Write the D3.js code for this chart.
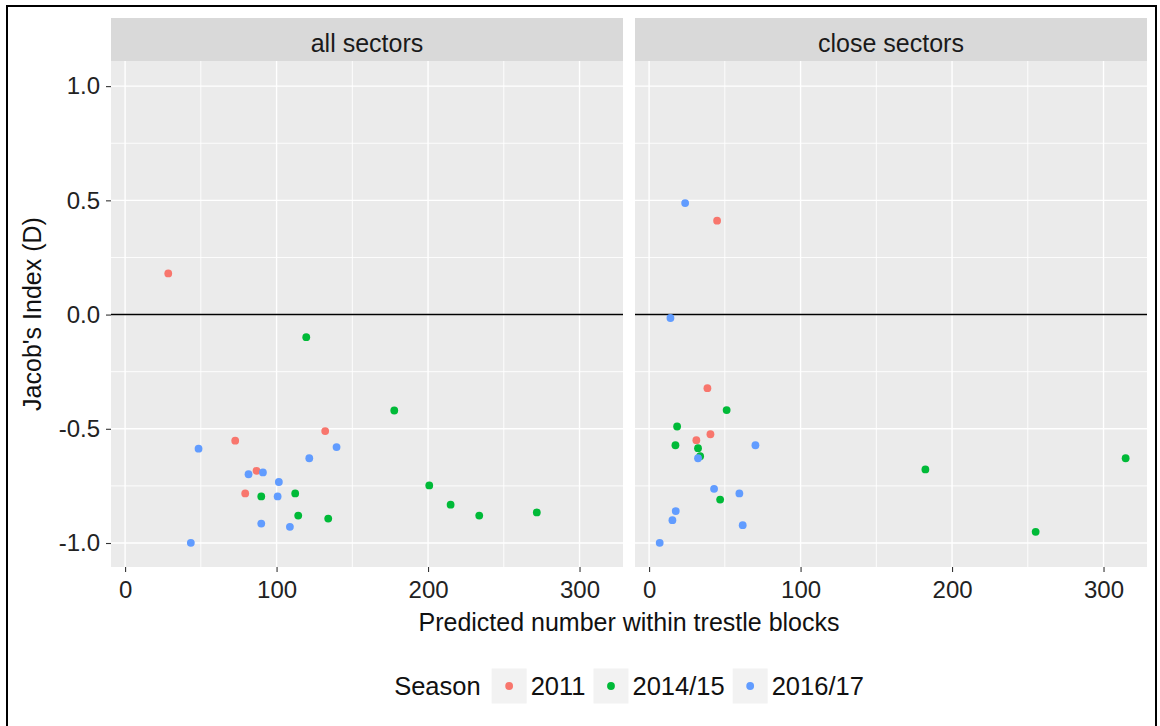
<!DOCTYPE html>
<html>
<head>
<meta charset="utf-8">
<script src="https://cdn.jsdelivr.net/npm/d3@7"></script>
<style>
  html, body { margin: 0; padding: 0; background: #fff; }
  svg { display: block; font-family: "Liberation Sans", Arial, sans-serif; }
</style>
</head>
<body>
<svg id="chart" width="1160" height="726"></svg>
<script>
// Facets and seasons
const panels = ["all sectors", "close sectors"];
const seasons = ["2011", "2014/15", "2016/17"];
const seasonColors = ["#F8766D", "#00BA38", "#619CFF"];

// Tick values
const xTicks = [0, 100, 200, 300];
const xMinor = [50, 150, 250];
const yTicks = [-1.0, -0.5, 0.0, 0.5, 1.0];
const yMinor = [-0.75, -0.25, 0.25, 0.75];

// all sectors: predicted number (x) and Jacob's index (y) per season
const allX2011 = [28.5, 72.7, 79.3, 86.8, 132.1];
const allY2011 = [0.18, -0.552, -0.783, -0.684, -0.51];
const allX1415 = [119.6, 89.9, 112.3, 114.3, 134.1, 177.7, 200.8, 214.9, 233.8, 271.8];
const allY1415 = [-0.099, -0.796, -0.783, -0.88, -0.893, -0.42, -0.748, -0.832, -0.88, -0.866];
const allX1617 = [43.4, 48.5, 81.5, 91.0, 100.7, 101.5, 121.6, 139.6, 89.9, 108.8];
const allY1617 = [-0.999, -0.587, -0.699, -0.691, -0.796, -0.733, -0.629, -0.58, -0.915, -0.929];

// close sectors
const closeX2011 = [44.9, 38.5, 40.5, 31.2];
const closeY2011 = [0.411, -0.322, -0.524, -0.55];
const closeX1415 = [51.2, 18.5, 17.4, 32.3, 33.7, 46.9, 182.4, 314.6, 255.2];
const closeY1415 = [-0.418, -0.49, -0.572, -0.585, -0.62, -0.81, -0.678, -0.629, -0.951];
const closeX1617 = [23.8, 14.1, 70.2, 32.3, 42.9, 59.6, 17.6, 15.4, 61.8, 7.0];
const closeY1617 = [0.488, -0.015, -0.572, -0.629, -0.763, -0.783, -0.86, -0.9, -0.922, -0.999];

const panelSeries = [
  [[allX2011, allY2011], [allX1415, allY1415], [allX1617, allY1617]],
  [[closeX2011, closeY2011], [closeX1415, closeY1415], [closeX1617, closeY1617]]
];

const svg = d3.select("#chart");
const W = 1160, H = 726;

svg.append("rect").attr("width", W).attr("height", H).attr("fill", "#fff");

// outer frame
svg.append("rect")
  .attr("x", 7).attr("y", 6).attr("width", 1149).attr("height", 730)
  .attr("fill", "none").attr("stroke", "#000").attr("stroke-width", 2);

const panelLefts = [111, 635];
const panelW = 512;
const panelTop = 61, panelBottom = 567;
const stripTop = 18;

const y = d3.scaleLinear().domain([-1.105, 1.11]).range([panelBottom, panelTop]);
const color = d3.scaleOrdinal().domain(seasons).range(seasonColors);

const fontSize = 25;
const tickFont = 24;

panels.forEach((name, pi) => {
  const x0 = panelLefts[pi];
  const x = d3.scaleLinear().domain([-9.3, 328.7]).range([x0, x0 + panelW]);
  const g = svg.append("g");

  // strip
  g.append("rect").attr("x", x0).attr("y", stripTop)
    .attr("width", panelW).attr("height", panelTop - stripTop).attr("fill", "#D9D9D9");
  g.append("text").attr("x", x0 + panelW / 2).attr("y", 51.5)
    .attr("text-anchor", "middle")
    .attr("font-size", fontSize).attr("fill", "#1A1A1A").text(name);

  // panel background
  g.append("rect").attr("x", x0).attr("y", panelTop)
    .attr("width", panelW).attr("height", panelBottom - panelTop).attr("fill", "#EBEBEB");

  // minor grid
  g.selectAll(".vminor").data(xMinor).join("line")
    .attr("x1", d => x(d)).attr("x2", d => x(d))
    .attr("y1", panelTop).attr("y2", panelBottom)
    .attr("stroke", "#fff").attr("stroke-width", 0.9);
  g.selectAll(".hminor").data(yMinor).join("line")
    .attr("x1", x0).attr("x2", x0 + panelW)
    .attr("y1", d => y(d)).attr("y2", d => y(d))
    .attr("stroke", "#fff").attr("stroke-width", 0.9);

  // major grid
  g.selectAll(".vmajor").data(xTicks).join("line")
    .attr("x1", d => x(d)).attr("x2", d => x(d))
    .attr("y1", panelTop).attr("y2", panelBottom)
    .attr("stroke", "#fff").attr("stroke-width", 1.4);
  g.selectAll(".hmajor").data(yTicks).join("line")
    .attr("x1", x0).attr("x2", x0 + panelW)
    .attr("y1", d => y(d)).attr("y2", d => y(d))
    .attr("stroke", "#fff").attr("stroke-width", 1.4);

  // reference line at zero
  g.append("line").attr("x1", x0).attr("x2", x0 + panelW)
    .attr("y1", y(0)).attr("y2", y(0))
    .attr("stroke", "#000").attr("stroke-width", 1.4);

  // x axis
  const xAxis = d3.axisBottom(x).tickValues(xTicks).tickSize(5).tickPadding(9)
    .tickFormat(d3.format("d"));
  const xg = g.append("g").attr("transform", `translate(0,${panelBottom})`).call(xAxis);
  xg.select(".domain").remove();
  xg.selectAll(".tick line").attr("stroke", "#333").attr("stroke-width", 1.1);
  xg.selectAll(".tick text").attr("font-size", tickFont).attr("fill", "#222")
    .attr("font-family", "Liberation Sans, Arial, sans-serif");

  // points, drawn season by season
  panelSeries[pi].forEach(([xs, ys], si) => {
    const pts = xs.map((v, i) => ({ x: v, y: ys[i] }));
    g.selectAll(".pt" + si).data(pts).join("circle")
      .attr("cx", d => x(d.x)).attr("cy", d => y(d.y))
      .attr("r", 3.9).attr("fill", color(seasons[si]));
  });
});

// y axis on the left panel
const yAxis = d3.axisLeft(y).tickValues(yTicks).tickSize(5).tickPadding(6)
  .tickFormat(d3.format(".1f"));
const yg = svg.append("g").attr("transform", `translate(${panelLefts[0]},0)`).call(yAxis);
yg.select(".domain").remove();
yg.selectAll(".tick line").attr("stroke", "#333").attr("stroke-width", 1.1);
yg.selectAll(".tick text").attr("font-size", tickFont).attr("fill", "#222")
  .attr("font-family", "Liberation Sans, Arial, sans-serif")
  .text(d => d3.format(".1f")(d).replace("−", "-"));

// axis titles
const plotCenterX = (panelLefts[0] + panelLefts[1] + panelW) / 2;
svg.append("text").attr("x", plotCenterX).attr("y", 631)
  .attr("text-anchor", "middle").attr("font-size", fontSize).attr("fill", "#111")
  .text("Predicted number within trestle blocks");
svg.append("text")
  .attr("transform", `translate(41,${(panelTop + panelBottom) / 2}) rotate(-90)`)
  .attr("text-anchor", "middle").attr("font-size", fontSize).attr("fill", "#111")
  .text("Jacob's Index (D)");

// legend
const legend = svg.append("g");
const legendY = 686;
const keySize = 35;
const legendFont = 25.5;
let cx = 0;
const titleText = legend.append("text").attr("x", cx).attr("y", legendY).attr("dy", "0.35em")
  .attr("font-size", legendFont).attr("fill", "#111").text("Season");
cx += titleText.node().getComputedTextLength() + 11;
seasons.forEach((s, i) => {
  legend.append("rect").attr("x", cx).attr("y", legendY - keySize / 2)
    .attr("width", keySize).attr("height", keySize).attr("fill", "#F2F2F2");
  legend.append("circle").attr("cx", cx + keySize / 2).attr("cy", legendY)
    .attr("r", 3.9).attr("fill", color(s));
  cx += keySize + 4;
  const t = legend.append("text").attr("x", cx).attr("y", legendY).attr("dy", "0.35em")
    .attr("font-size", legendFont).attr("fill", "#111").text(s);
  cx += t.node().getComputedTextLength() + (i < seasons.length - 1 ? 8 : 0);
});
legend.attr("transform", `translate(${plotCenterX - cx / 2},0)`);
</script>
</body>
</html>
